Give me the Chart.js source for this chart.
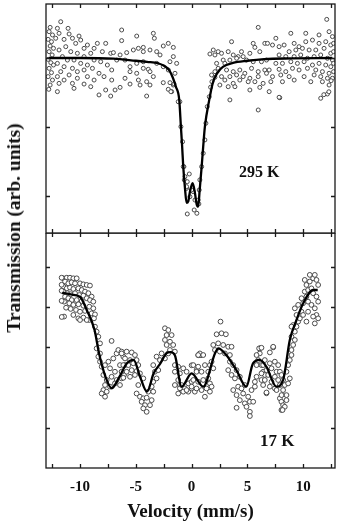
<!DOCTYPE html>
<html><head><meta charset="utf-8">
<script src="https://cdn.jsdelivr.net/npm/chart.js@4.4.1/dist/chart.umd.min.js"></script>
<style>
html,body{margin:0;padding:0;background:#fff;width:343px;height:525px;overflow:hidden;}
#wrap{position:relative;width:343px;height:525px;}
.box{position:absolute;left:0;width:343px;}
#bTop{top:0;height:240px;}
#bLow{top:233px;height:292px;}
#ytitle{position:absolute;left:14px;top:228px;transform:translate(-50%,-50%) rotate(-90deg);font:bold 19.5px "Liberation Serif",serif;white-space:nowrap;color:#111;}
</style></head>
<body><div id="wrap">
<div class="box" id="bTop"><canvas id="cTop"></canvas></div>
<div class="box" id="bLow"><canvas id="cLow"></canvas></div>
<div id="ytitle">Transmission (arb. units)</div>
</div>
<script>
// ---- data (velocity mm/s, relative transmission) ----
const xTickValues = [-10, -5, 0, 5, 10];
const xTickLabels = ['-10', '-5', '0', '5', '10'];
const xFrameTicks = [-12.5, -10, -7.5, -5, -2.5, 0, 2.5, 5, 7.5, 10, 12.5];
const topYTicks = [90, 95, 100];
const lowYTicks = [92, 94, 96, 98, 100];
const panelLabels = ['295 K', '17 K'];

const topScatter = [
[-12.68,102.22],[-12.77,101.91],[-12.47,101.67],[-12.86,101.35],[-12.56,101.18],[-12.68,100.87],[-12.38,100.70],[-12.77,100.46],[-12.50,100.22],[-12.86,99.90],
[-12.62,99.66],[-12.38,99.49],[-12.77,99.25],[-12.56,98.94],[-12.86,98.65],[-12.47,98.40],[-12.68,98.04],[-12.80,97.73],[-12.18,101.43],[-11.73,102.63],
[-12.03,102.15],[-11.07,102.15],[-11.88,101.79],[-10.98,101.74],[-11.43,101.35],[-10.68,101.43],[-10.09,101.59],[-9.94,101.30],[-10.39,101.06],[-9.34,100.94],
[-8.45,101.06],[-7.70,101.06],[-8.74,100.70],[-9.64,100.70],[-11.28,100.82],[-11.88,100.58],[-10.83,100.46],[-10.24,100.34],[-9.04,100.34],[-8.00,100.46],
[-11.58,100.10],[-9.64,100.10],[-7.25,100.34],[-11.13,99.85],[-10.54,99.85],[-8.74,99.85],[-8.15,99.73],[-12.03,99.61],[-9.94,99.61],[-9.34,99.49],
[-11.43,99.37],[-10.68,99.25],[-7.55,99.49],[-8.89,99.25],[-11.73,99.01],[-10.24,99.01],[-9.64,99.13],[-10.98,98.77],[-8.30,98.89],[-12.03,98.65],
[-9.34,98.65],[-10.24,98.53],[-11.43,98.40],[-7.85,98.65],[-8.74,98.40],[-11.88,98.16],[-10.68,98.16],[-9.64,98.11],[-12.03,97.56],[-9.04,97.92],
[-7.70,97.68],[-8.30,97.32],[-7.25,97.24],[-10.54,97.80],
[-6.27,102.03],[-6.27,101.26],[-4.92,101.59],[-3.43,101.79],[-3.34,101.43],[-7.01,100.39],[-6.41,100.22],[-5.82,100.39],[-5.22,100.58],[-4.77,100.70],
[-4.33,100.77],[-4.33,100.46],[-3.73,100.58],[-3.13,100.46],[-2.54,100.87],[-2.09,101.06],[-1.64,100.77],[-2.83,100.22],[-1.64,100.10],[-1.34,99.61],
[-1.94,99.73],[-6.71,99.85],[-5.97,99.85],[-5.52,99.37],[-4.92,99.61],[-4.33,99.73],[-3.88,99.18],[-3.13,99.61],[-2.54,99.37],[-2.09,99.13],
[-1.49,98.89],[-7.16,99.13],[-5.52,99.01],[-4.92,98.89],[-4.33,99.25],[-3.73,99.01],[-5.97,98.53],[-4.77,98.40],[-4.03,98.28],[-3.43,98.65],
[-2.54,98.21],[-1.94,98.21],[-1.64,98.04],[-7.16,98.40],[-6.86,97.68],[-6.41,97.87],[-5.52,98.11],[-4.62,98.04],[-3.73,98.04],[-4.03,97.24],
[-2.09,97.73],[-1.79,97.56],
[-1.86,97.56],[-1.58,98.12],[-1.05,96.83],[-0.96,95.02],[-0.81,93.93],[-0.69,92.12],[-0.66,91.16],[-0.45,90.55],[-0.21,91.59],[-0.15,89.94],
[0.14,90.31],[0.23,88.98],[0.65,89.42],[-0.39,88.69],[0.47,88.74],[0.74,91.16],[0.90,92.12],[1.04,93.09],[1.19,94.06],[1.28,95.27],
[1.40,96.47],[1.58,97.19],[1.70,97.88],[1.82,98.28],[2.09,98.60],[-1.20,96.83],[-0.75,92.12],[-0.60,91.40],[0.00,90.43],[0.30,89.70],
[0.59,89.70],[0.68,90.43],[-0.45,90.67],[-0.39,91.03],
[5.97,102.22],[3.58,101.18],[5.52,101.06],[6.56,101.06],[5.67,100.77],[1.94,100.58],[2.38,100.46],[1.64,100.29],[2.09,100.22],[2.68,100.34],
[3.28,100.46],[3.73,100.22],[4.17,100.10],[4.62,100.10],[4.47,100.46],[5.22,100.34],[6.11,100.46],[2.83,99.85],[3.43,99.85],[4.03,99.98],
[4.92,99.85],[5.52,99.73],[6.26,99.73],[6.71,99.85],[2.24,99.61],[2.98,99.61],[2.38,99.25],[3.13,99.13],[3.73,99.01],[4.32,99.13],
[4.77,98.89],[5.37,99.25],[5.97,99.01],[6.56,99.13],[2.09,99.01],[1.79,98.77],[2.68,98.65],[3.43,98.65],[4.03,98.77],[4.62,98.65],
[5.22,98.53],[5.97,98.65],[6.71,98.89],[2.98,98.40],[3.73,98.16],[4.32,98.40],[5.07,98.28],[5.67,98.28],[6.41,98.16],[2.53,98.04],
[3.28,97.92],[3.88,97.92],[5.22,97.68],[6.11,97.87],[5.97,96.23],[3.43,96.96],[7.90,97.12],
[12.11,102.80],[8.89,101.79],[10.23,101.79],[11.42,101.67],[12.32,101.91],[12.62,101.55],[7.55,101.43],[6.80,101.06],[7.25,100.94],[7.84,100.82],
[8.29,100.94],[9.19,101.06],[9.63,100.82],[10.23,101.18],[10.83,101.30],[11.42,101.06],[12.02,101.18],[12.47,100.94],[12.72,101.06],[8.74,100.46],
[9.34,100.58],[9.93,100.70],[10.53,100.58],[11.13,100.58],[11.87,100.70],[12.47,100.34],[12.72,100.46],[7.84,100.22],[8.44,100.10],[9.19,100.10],
[9.78,100.22],[10.38,99.98],[10.98,100.10],[11.57,100.22],[12.17,99.98],[12.62,99.85],[7.55,99.61],[8.14,99.61],[8.89,99.73],[9.48,99.61],
[10.08,99.73],[10.83,99.49],[11.42,99.61],[12.02,99.49],[12.47,99.37],[12.72,99.61],[6.95,99.13],[7.84,99.18],[8.44,99.01],[9.04,99.25],
[9.63,99.13],[10.38,99.25],[11.13,99.13],[11.72,99.01],[12.32,98.89],[12.72,99.01],[7.25,98.65],[7.99,98.77],[8.74,98.65],[10.08,98.65],
[10.98,98.77],[11.57,98.65],[12.17,98.53],[12.62,98.53],[7.10,98.28],[8.14,98.28],[9.19,98.40],[10.68,98.28],[11.72,98.28],[12.32,98.04],
[6.95,97.56],[7.84,97.15],[11.57,97.08],[12.17,97.39],[11.85,97.34],[12.30,97.55],[12.50,98.35]
];

const topFit = [
[-12.8,100.00],[-10,100.00],[-7,99.95],[-5,99.80],[-4,99.72],[-3,99.62],[-2.4,99.40],[-2.0,99.10],[-1.7,98.60],[-1.4,97.90],
[-1.11,96.96],[-0.96,95.02],[-0.85,93.60],[-0.75,92.12],[-0.6,90.60],[-0.45,89.49],[-0.3,89.60],[-0.15,90.30],[0.09,90.92],[0.3,90.20],
[0.45,89.40],[0.59,89.22],[0.72,90.40],[0.9,92.12],[1.05,93.70],[1.19,95.02],[1.58,96.96],[1.9,98.20],[2.3,98.90],[2.8,99.35],
[3.7,99.64],[5,99.80],[6.5,99.92],[9,99.97],[12.6,100.00]
];

const lowScatter = [
[-11.49,99.42],[-11.19,99.45],[-10.90,99.45],[-10.60,99.42],[-10.30,99.42],[-11.34,99.26],[-11.05,99.17],[-10.75,99.22],[-10.45,99.17],[-10.00,99.17],
[-9.70,99.12],[-9.40,99.09],[-9.11,99.06],[-11.49,99.01],[-11.19,98.92],[-10.90,98.96],[-10.60,98.89],[-10.15,98.92],[-9.85,98.84],[-9.55,98.76],
[-9.25,98.68],[-8.96,98.51],[-11.49,98.76],[-11.13,98.68],[-10.84,98.63],[-10.45,98.68],[-10.06,98.59],[-9.70,98.56],[-9.40,98.43],[-9.11,98.34],
[-8.81,98.26],[-11.34,98.51],[-11.05,98.43],[-10.75,98.34],[-10.30,98.34],[-9.85,98.29],[-11.43,98.26],[-10.96,98.18],[-10.60,98.10],[-10.15,98.13],
[-9.70,98.06],[-9.17,98.01],[-8.81,97.93],[-11.25,97.96],[-10.84,97.90],[-10.36,97.85],[-10.00,97.76],[-9.55,97.80],[-8.96,97.68],[-8.66,97.63],
[-11.43,97.52],[-10.60,97.60],[-10.15,97.43],[-9.70,97.47],[-9.17,97.35],[-8.75,97.43],[-8.66,97.02],[-8.51,96.77],[-8.36,96.52],[-8.21,96.19],
[-7.17,96.31],[-8.51,95.94],[-8.21,95.69],[-8.36,95.53],[-8.21,95.28],[-8.06,95.03],[-7.76,95.11],[-7.46,95.28],[-7.02,95.44],[-6.72,95.69],
[-6.57,95.86],[-6.27,95.78],[-7.31,94.95],[-6.87,94.78],[-6.42,95.11],[-6.27,94.78],[-7.91,94.62],[-7.61,94.37],[-7.17,94.53],[-6.72,94.37],
[-6.27,94.45],[-7.76,94.12],[-7.91,93.87],[-7.61,93.79],[-7.76,93.54],[-8.06,93.70],[-7.31,94.04],[-6.87,94.20],[-6.42,94.12],[-6.06,94.62],
[-5.97,95.11],[-6.12,95.53],[-11.65,99.45],[-11.65,99.10],[-11.65,98.80],[-11.65,98.30],[-11.64,97.50],[-10.00,97.35],[-9.40,97.35],
[-6.27,95.69],[-5.82,95.78],[-5.37,95.74],[-5.08,95.61],[-5.97,95.44],[-5.52,95.36],[-4.93,95.36],[-6.12,95.11],[-5.67,95.11],[-5.23,95.20],
[-4.78,95.11],[-6.27,94.78],[-5.82,94.78],[-5.37,94.86],[-4.93,94.81],[-6.12,94.48],[-5.52,94.53],[-5.08,94.62],[-4.63,94.70],[-4.33,94.45],
[-4.78,94.12],[-4.93,93.70],[-4.63,93.54],[-4.33,93.46],[-4.03,93.49],[-4.48,93.29],[-4.18,93.12],[-4.33,92.96],[-4.03,92.79],[-3.73,93.12],
[-3.58,93.37],[-3.88,93.79],[-3.44,93.79],[-3.58,94.04],[-3.44,94.28],[-3.14,94.45],[-3.29,94.78],[-2.99,94.86],[-3.44,95.11],[-3.14,95.53],
[-2.84,95.36],[-2.69,95.69],[-2.39,95.44],[-2.09,95.69],[-2.39,96.94],[-2.09,96.85],[-2.24,96.60],[-1.79,96.60],[-2.39,96.36],[-1.94,96.27],
[-2.24,96.11],[-1.65,96.11],[-1.94,95.86],[-1.50,95.78],[-1.50,95.11],[-1.20,95.03],[-1.50,94.78],[-1.05,94.70],[-0.75,94.95],[-0.45,94.78],
[-1.20,94.37],[-1.05,94.12],[-0.90,93.87],[-0.60,93.95],[-0.30,93.79],[0.00,93.95],[0.29,93.79],[-0.30,94.20],[0.00,94.28],[-1.20,93.70],
[-1.05,93.96],[-0.75,93.79],[-0.45,93.87],[-0.90,94.12],[-1.50,94.12],[0.60,95.60],[0.83,95.60],[0.00,95.10],[0.45,94.87],
[2.59,97.27],[2.24,96.64],[2.68,96.69],[3.07,96.64],[1.94,96.11],[2.38,96.19],[2.83,96.11],[3.28,96.02],[3.58,96.02],[0.74,95.69],
[0.59,95.61],[1.04,95.61],[2.09,95.86],[2.53,95.78],[2.98,95.69],[3.43,95.61],[0.15,95.11],[0.59,95.03],[1.19,95.11],[0.44,94.78],
[0.89,94.78],[1.49,94.78],[1.64,95.11],[1.79,95.28],[1.94,94.95],[0.15,94.37],[0.59,94.28],[1.04,94.37],[1.49,94.45],[1.64,94.20],
[0.00,94.04],[0.44,93.95],[0.89,93.87],[1.34,93.95],[1.79,94.04],[1.19,93.54],[1.64,93.79],[3.43,95.28],[3.73,95.11],[3.28,94.86],
[4.03,94.86],[3.58,94.62],[3.88,94.45],[4.32,94.53],[3.73,93.87],[4.17,94.04],[4.47,93.95],[4.77,94.12],[4.03,93.62],[4.62,93.70],
[5.07,93.54],[4.32,93.37],[4.77,93.21],[5.22,93.29],[4.92,93.04],[5.22,92.79],[5.52,93.29],[4.03,92.99],[5.37,93.87],[5.67,94.04],
[5.82,95.11],[5.97,95.36],[6.11,95.69],[6.11,95.94],[5.82,95.61],[6.26,95.11],[6.41,94.78],[5.82,94.53],[6.26,94.37],[6.56,94.62],
[5.67,94.28],[5.22,92.58],[6.71,93.71],[7.31,95.99],[6.05,95.94],
[6.26,95.97],[7.31,96.02],[7.01,95.74],[6.56,95.36],[7.01,95.20],[7.46,95.28],[7.76,95.11],[6.41,95.11],[6.71,94.86],[7.16,94.95],
[7.61,94.78],[7.91,94.78],[6.26,94.70],[6.86,94.62],[7.46,94.53],[8.05,94.62],[6.56,94.37],[7.16,94.28],[7.76,94.37],[8.20,94.37],
[6.41,94.12],[7.01,94.04],[7.46,93.95],[7.91,94.12],[8.35,94.12],[6.71,93.75],[7.61,93.87],[8.20,93.87],[8.65,94.20],[8.80,94.45],
[8.50,94.78],[8.65,95.11],[8.80,95.36],[8.95,95.61],[8.95,95.86],[9.10,96.11],[9.25,96.36],[8.95,96.52],[9.25,96.77],[9.40,97.02],
[9.10,97.10],[9.55,97.27],[8.95,97.02],[9.70,97.43],[9.40,97.60],[9.85,97.76],[9.25,97.93],[9.55,98.10],[9.99,98.18],[9.85,98.43],
[10.29,98.51],[10.14,98.76],[10.44,98.84],[10.74,98.92],[10.29,99.09],[10.59,99.26],[10.89,99.42],[10.14,99.34],[10.59,99.59],[11.04,99.59],
[11.19,99.34],[11.34,99.09],[10.89,98.68],[11.19,98.51],[11.34,98.26],[10.44,98.26],[10.74,98.10],[11.04,97.93],[11.19,97.60],[11.34,97.43],
[10.89,97.52],[10.44,97.76],[9.99,97.60],[10.29,97.27],[11.04,97.18],[7.91,93.46],[8.05,93.29],[8.20,93.12],[8.05,92.88],[8.35,93.04],
[8.50,93.62],[8.50,93.37],[8.15,92.88],[8.06,93.62]
];

const lowFit = [
[-11.6,98.70],[-10.6,98.60],[-10,98.50],[-9.4,97.85],[-8.7,96.85],[-8.3,95.70],[-7.7,94.50],[-7.16,93.96],[-6.5,94.50],[-5.8,95.20],
[-5.2,95.37],[-4.6,94.50],[-4.0,93.79],[-3.4,94.70],[-2.8,95.20],[-2.24,95.70],[-1.9,95.75],[-1.5,95.60],[-0.9,94.04],[0,94.70],
[1.04,94.04],[2.1,95.70],[2.4,95.94],[3.1,95.61],[4.0,94.87],[4.9,94.04],[5.5,95.20],[6.1,95.37],[6.7,95.03],[7.6,94.04],
[8.2,94.37],[8.8,96.36],[9.4,97.35],[10.0,98.18],[10.9,98.84],[11.3,98.84]
];

// ---- rendering ----
const SERIF = '"Liberation Serif", "Times New Roman", serif';
const toXY = arr => arr.map(p => ({x: p[0], y: p[1]}));

const framePlugin = {
  id: 'frame',
  afterDatasetsDraw(chart, args, opts) {
    const {ctx, chartArea: a} = chart;
    const xs = chart.scales.x, ys = chart.scales.y;
    ctx.save();
    ctx.strokeStyle = '#1a1a1a';
    ctx.lineWidth = 1.3;
    ctx.strokeRect(a.left, a.top, a.right - a.left, a.bottom - a.top);
    const L = 4;
    ctx.beginPath();
    xFrameTicks.forEach(v => {
      const px = Math.round(xs.getPixelForValue(v)) + 0.5;
      ctx.moveTo(px, a.top); ctx.lineTo(px, a.top + L);
      ctx.moveTo(px, a.bottom); ctx.lineTo(px, a.bottom - L);
    });
    opts.yTicks.forEach(v => {
      const py = Math.round(ys.getPixelForValue(v)) + 0.5;
      ctx.moveTo(a.left, py); ctx.lineTo(a.left + L, py);
      ctx.moveTo(a.right, py); ctx.lineTo(a.right - L, py);
    });
    ctx.stroke();
    ctx.font = 'bold ' + opts.labelSize + 'px ' + SERIF;
    ctx.textAlign = 'center';
    ctx.textBaseline = 'middle';
    ctx.fillStyle = '#111';
    ctx.fillText(opts.label, xs.getPixelForValue(opts.lx), ys.getPixelForValue(opts.ly));
    ctx.restore();
  }
};

function makeChart(id, scatter, fit, yMin, yMax, yTicks, label, lx, ly, labelSize, radius, showX) {
  const xScale = {
    type: 'linear', min: -13.05, max: 12.85, display: showX,
    grid: {display: false, drawTicks: false},
    border: {display: false},
    afterBuildTicks: s => { s.ticks = xTickValues.map(v => ({value: v})); },
    ticks: {
      color: '#111', padding: 10, autoSkip: false, maxRotation: 0,
      font: {family: SERIF, size: 15, weight: 'bold'},
      callback: v => xTickLabels[xTickValues.indexOf(v)]
    },
    title: {
      display: showX, text: 'Velocity (mm/s)', color: '#111',
      font: {family: SERIF, size: 19, weight: 'bold'},
      padding: {top: 0, bottom: 2}
    }
  };
  if (showX) xScale.afterFit = s => { s.height = 57; };
  return new Chart(document.getElementById(id), {
    type: 'scatter',
    data: {
      datasets: [
        {data: toXY(fit), showLine: true, borderColor: '#000', borderWidth: 2.3,
         pointRadius: 0, cubicInterpolationMode: 'monotone', fill: false},
        {data: toXY(scatter), showLine: false, pointRadius: radius, pointBorderWidth: 1,
         pointBorderColor: '#4a4a4a', pointBackgroundColor: '#fff'}
      ]
    },
    options: {
      responsive: true, maintainAspectRatio: false, animation: false, devicePixelRatio: 1,
      layout: {autoPadding: false, padding: {left: 46, right: 8, top: showX ? 0 : 4, bottom: showX ? 0 : 7}},
      scales: {
        x: xScale,
        y: {type: 'linear', min: yMin, max: yMax, display: false}
      },
      plugins: {
        legend: {display: false}, tooltip: {enabled: false},
        frame: {yTicks: yTicks, label: label, lx: lx, ly: ly, labelSize: labelSize}
      }
    },
    plugins: [framePlugin]
  });
}

makeChart('cTop', topScatter, topFit, 87.31, 103.915, topYTicks, panelLabels[0], 6.05, 91.66, 16, 2, false);
makeChart('cLow', lowScatter, lowFit, 90.0, 101.67, lowYTicks, panelLabels[1], 7.68, 91.3, 17, 2.4, true);
</script></body></html>
